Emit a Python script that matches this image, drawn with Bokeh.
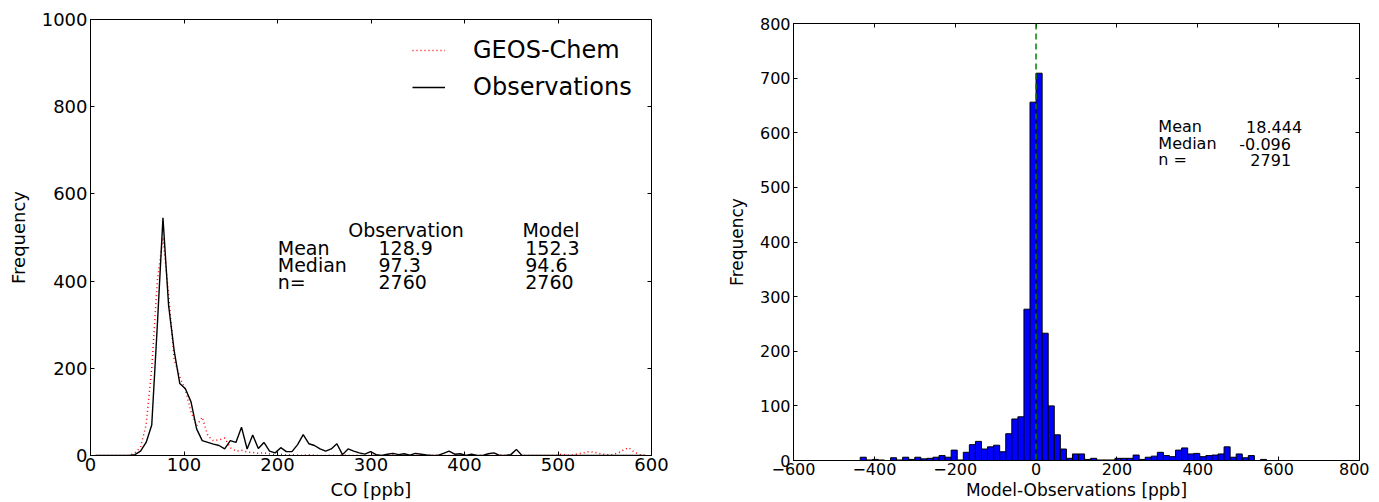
from bokeh.plotting import figure
from bokeh.layouts import row, column
from bokeh.models import (Range1d, LinearAxis, Label, Span, Legend, LegendItem,
                          FixedTicker, ColumnDataSource)
from bokeh.embed import file_html
from bokeh.resources import INLINE

FONT = "DejaVu Sans"

# ---------------- data: left panel (CO frequency distributions) ----------------
co_bin_start = 5.5
co_bin_step = 6.0
obs_freq = [0, 0, 0, 0, 0, 0, 0, 2, 10, 30,
            70, 300, 545, 345, 240, 165, 153, 123, 61, 34,
            30, 26, 23, 15, 34, 30, 65, 15, 47, 16,
            30, 10, 6, 18, 9, 9, 25, 48, 27, 23,
            15, 10, 15, 27, 2, 15, 10, 6, 3, 9,
            2, 0, 3, 5, 2, 4, 1, 5, 3, 1,
            0, 0, 5, 10, 3, 4, 0, 3, 0, 0,
            4, 6, 0, 0, 2, 14, 0, 0, 0, 0,
            0, 0, 0, 0, 0, 0, 0, 0, 0, 0,
            0, 0, 0, 0, 0, 0, 0, 0, 0]
model_freq = [0, 0, 0, 0, 0, 0, 0, 6, 19, 70,
              200, 400, 500, 370, 220, 180, 150, 100, 68, 88,
              45, 34, 36, 40, 18, 10, 12, 8, 7, 5,
              6, 4, 2, 3, 1, 2, 1, 0, 2, 1,
              0, 0, 1, 0, 2, 0, 0, 1, 0, 0,
              1, 0, 0, 2, 0, 0, 0, 1, 0, 0,
              0, 1, 0, 0, 0, 0, 1, 0, 0, 0,
              0, 0, 1, 0, 0, 0, 0, 0, 0, 0,
              0, 0, 0, 3, 0, 1, 4, 6, 9, 7,
              4, 2, 2, 5, 12, 18, 8, 2, 0]
co_bins = [co_bin_start + co_bin_step * i for i in range(len(obs_freq))]

stat_rows = ["Mean", "Median", "n="]
obs_stats = ["128.9", "97.3", "2760"]
model_stats = ["152.3", "94.6", "2760"]

# ---------------- data: right panel (Model - Observations histogram) ----------------
diff_bin_start = -435
diff_bin_width = 15
diff_counts = [6, 1, 2, 1, 0, 5, 1, 6, 2, 6,
               3, 4, 6, 9, 6, 19, 1, 15, 29, 35,
               21, 25, 28, 16, 49, 76, 80, 277, 656, 709,
               233, 100, 47, 21, 4, 12, 12, 2, 4, 1,
               1, 1, 4, 4, 4, 10, 2, 6, 8, 15,
               9, 7, 19, 23, 12, 13, 7, 9, 10, 12,
               25, 6, 12, 5, 9, 0, 2, 0]
diff_left = [diff_bin_start + diff_bin_width * i for i in range(len(diff_counts))]
diff_right = [l + diff_bin_width for l in diff_left]

diff_stat_rows = ["Mean", "Median", "n ="]
diff_stat_vals = ["18.444", "-0.096", "2791"]
diff_median = -0.096

left_xticks = [0, 100, 200, 300, 400, 500, 600]
left_yticks = [0, 200, 400, 600, 800, 1000]
right_xticks = [-600, -400, -200, 0, 200, 400, 600, 800]
right_yticks = [0, 100, 200, 300, 400, 500, 600, 700, 800]


def style_axes(p, xticks, yticks, tick_fs, label_fs, xlab_standoff, ylab_standoff):
    for ax, ticks in ((p.xaxis[0], xticks), (p.yaxis[0], yticks)):
        ax.ticker = FixedTicker(ticks=ticks)
        ax.major_tick_in = 4
        ax.major_tick_out = 0
        ax.minor_tick_line_color = None
        ax.axis_line_color = "black"
        ax.major_tick_line_color = "black"
        ax.major_label_text_font = FONT
        ax.major_label_text_font_size = tick_fs
        ax.major_label_text_color = "black"
        ax.axis_label_text_font = FONT
        ax.axis_label_text_font_size = label_fs
        ax.axis_label_text_font_style = "normal"
        ax.axis_label_text_color = "black"
        ax.major_label_overrides = {t: ("\u2212" + str(abs(t)) if t < 0 else str(t)) for t in ticks}
    p.xaxis[0].major_label_standoff = 2
    p.yaxis[0].major_label_standoff = 3
    p.xaxis[0].axis_label_standoff = xlab_standoff
    p.yaxis[0].axis_label_standoff = ylab_standoff
    # mirrored ticks on top / right (matplotlib classic style), no labels drawn
    for side, ticks in (("above", xticks), ("right", yticks)):
        ax = LinearAxis(ticker=FixedTicker(ticks=ticks), major_tick_in=4, major_tick_out=0,
                        minor_tick_line_color=None, major_label_text_font_size="1px",
                        major_label_text_color=None, major_label_standoff=0,
                        axis_line_color="black")
        p.add_layout(ax, side)
    p.xgrid.visible = False
    p.ygrid.visible = False
    p.outline_line_color = "black"
    p.outline_line_width = 1
    p.background_fill_color = "white"
    p.border_fill_color = "white"


# ---------------- left figure ----------------
p1 = figure(width=708, height=502, output_backend="svg", toolbar_location=None,
            x_range=Range1d(0, 600), y_range=Range1d(0, 1000),
            min_border_left=90, min_border_right=57, min_border_top=19, min_border_bottom=47,
            x_axis_label="CO [ppb]", y_axis_label="Frequency")
style_axes(p1, left_xticks, left_yticks, "18px", "18px", 5, 10)

src1 = ColumnDataSource(dict(x=co_bins, obs=obs_freq, model=model_freq))
r_model = p1.line("x", "model", source=src1, line_color="#ff0000", line_width=1.5, line_dash="1 3")
r_obs = p1.line("x", "obs", source=src1, line_color="black", line_width=1.4)

legend = Legend(items=[LegendItem(label="GEOS-Chem", renderers=[r_model]),
                       LegendItem(label="Observations", renderers=[r_obs])],
                location=(322, 354), orientation="vertical",
                label_text_font=FONT, label_text_font_size="24px", label_text_color="black",
                glyph_width=33, glyph_height=28, label_height=28, label_standoff=28,
                spacing=9, padding=0, margin=0,
                border_line_color=None, background_fill_alpha=0)
p1.add_layout(legend)

fs1 = "19px"


def lab1(x, y, text):
    p1.add_layout(Label(x=x, y=y, text=text, text_font=FONT, text_font_size=fs1,
                        text_color="black", text_baseline="middle"))


lab1(275.6, 517, "Observation")
lab1(462, 517, "Model")
row_y1 = [476, 437, 398]
for lab, ov, mv, yy in zip(stat_rows, obs_stats, model_stats, row_y1):
    lab1(200.3, yy, lab)
    lab1(308, yy, ov)
    lab1(465, yy, mv)

# ---------------- right figure ----------------
p2 = figure(width=661, height=502, output_backend="svg", toolbar_location=None,
            x_range=Range1d(-600, 800), y_range=Range1d(0, 800),
            min_border_left=85, min_border_right=10, min_border_top=23, min_border_bottom=41,
            x_axis_label="Model-Observations [ppb]", y_axis_label="Frequency")
style_axes(p2, right_xticks, right_yticks, "16px", "17px", 2, 10)

src2 = ColumnDataSource(dict(left=diff_left, right=diff_right, top=diff_counts,
                             bottom=[0] * len(diff_counts)))
p2.quad(left="left", right="right", top="top", bottom="bottom", source=src2,
        fill_color="#0000ff", line_color="black", line_width=1)

p2.add_layout(Span(location=diff_median, dimension="height", line_color="#008000",
                   line_width=1.5, line_dash="6 4"))

fs2 = "16px"
row_y2 = [610.6, 580, 551]
val_x2 = [519.5, 502.8, 530]
for lab, v, yy, vx in zip(diff_stat_rows, diff_stat_vals, row_y2, val_x2):
    p2.add_layout(Label(x=302.5, y=yy, text=lab, text_font=FONT, text_font_size=fs2,
                        text_color="black", text_baseline="middle"))
    p2.add_layout(Label(x=vx, y=yy, text=v, text_font=FONT, text_font_size=fs2,
                        text_color="black", text_baseline="middle"))

layout = row(p1, column(p2))
open("out.html", "w").write(file_html(layout, INLINE))
